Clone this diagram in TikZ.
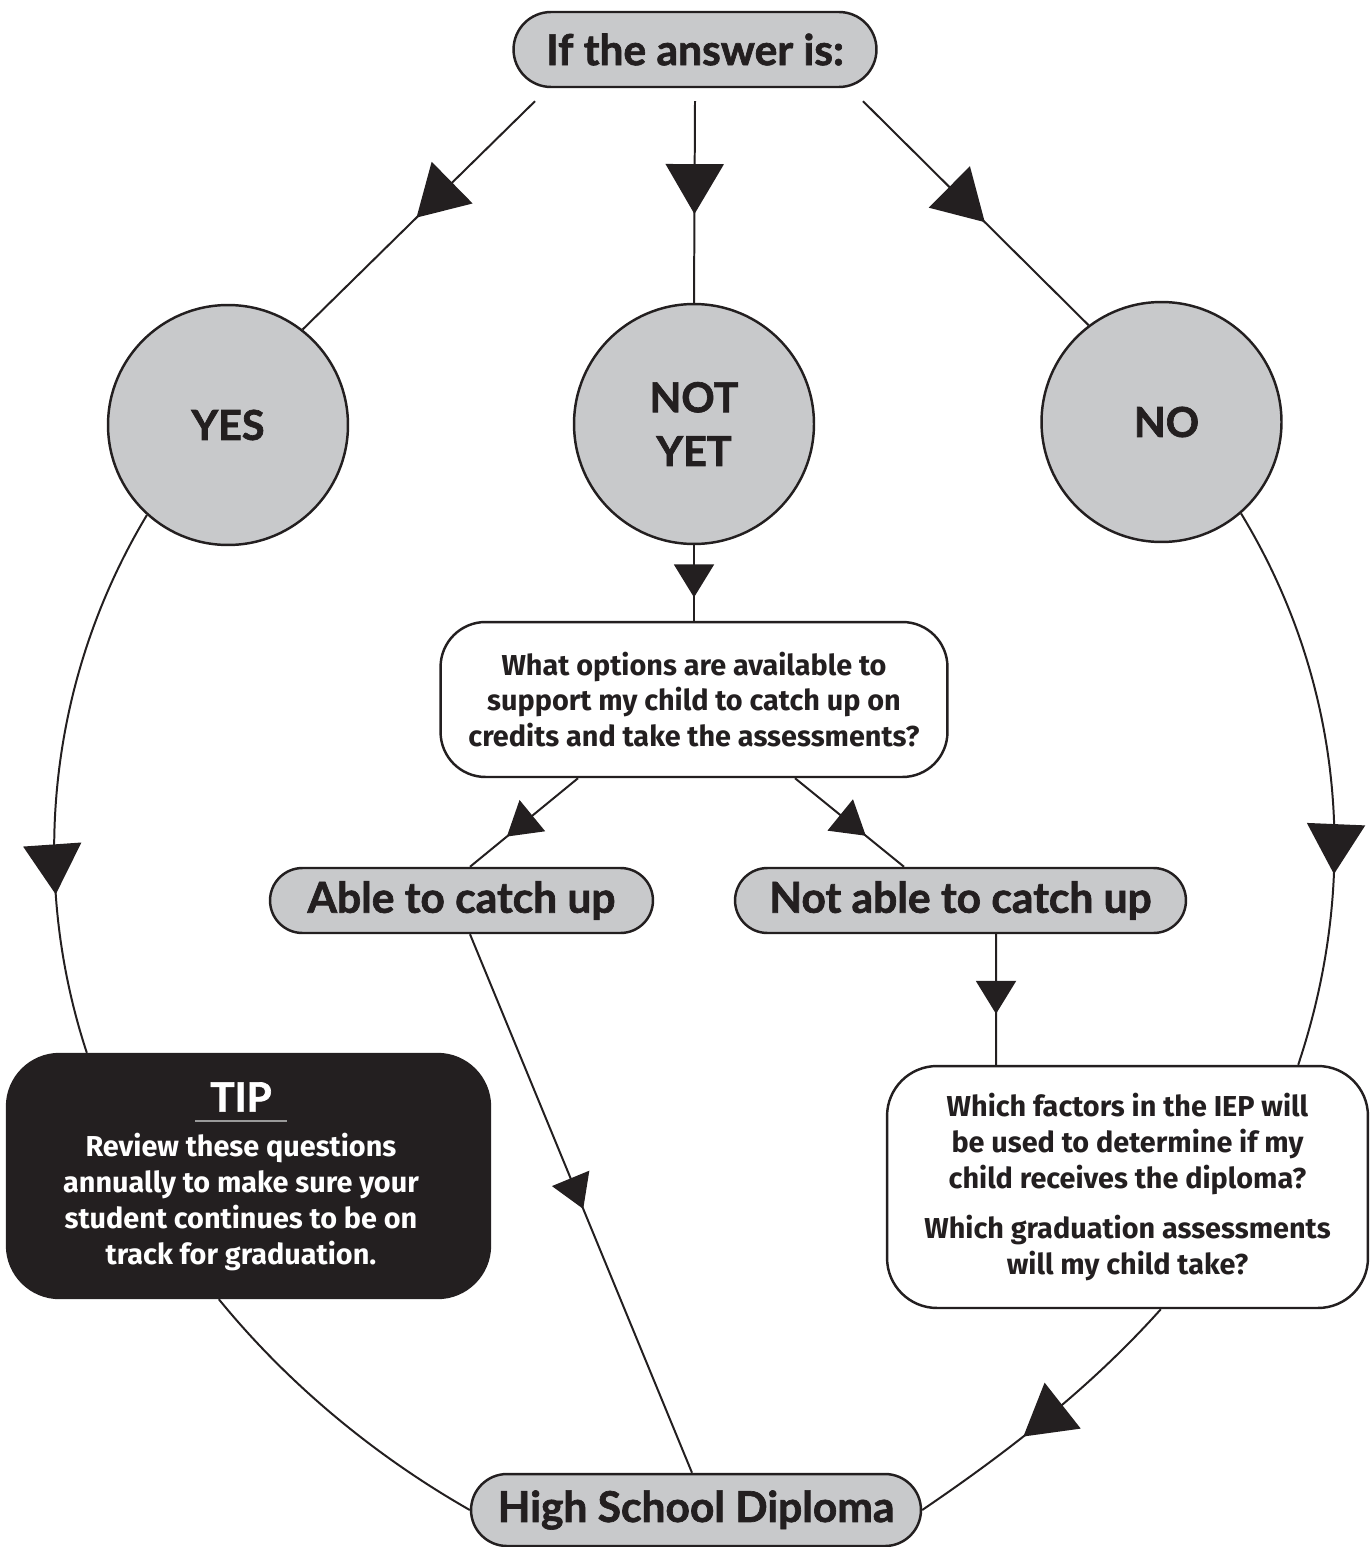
\documentclass[tikz,border=0pt]{standalone}
\usepackage{fontspec}
\setmainfont{Fira Sans}
\newfontfamily\headfont{Lato}[BoldFeatures={FakeBold=1.6}]
\newfontfamily\bodyfont{Fira Sans}
\usetikzlibrary{arrows.meta,decorations.markings,calc,backgrounds}
\definecolor{ink}{HTML}{231F20}
\definecolor{boxgray}{HTML}{C8C9CB}
\definecolor{tipgray}{HTML}{9A9A9A}
\tikzset{
  headtext/.style={font=\headfont\bfseries\fontsize{24.2}{28}\selectfont, text=ink},
  bodytext/.style={font=\bodyfont\bfseries\fontsize{16.4}{20.4}\selectfont, align=center},
  pill/.style={draw=ink, line width=1.4pt, fill=boxgray, inner sep=0pt, headtext},
  bigcirc/.style={circle, draw=ink, line width=1.4pt, fill=boxgray, minimum size=4.8cm, inner sep=0pt, headtext, align=center},
  qbox/.style={draw=ink, line width=1.4pt, fill=white, inner sep=0pt, bodytext, text=ink},
  tipbox/.style={draw=ink, line width=1.4pt, fill=ink, inner sep=0pt},
  conn/.style={draw=ink, line width=1.13pt},
  bigarr/.style={decoration={markings, mark=at position #1 with {\arrow{Triangle[width=1.16cm,length=1cm]}}}, postaction={decorate}},
  smallarr/.style={decoration={markings, mark=at position #1 with {\arrow{Triangle[width=0.8cm,length=0.66cm]}}}, postaction={decorate}}
}
\begin{document}
\begin{tikzpicture}[x=0.02cm, y=-0.02cm]
\useasboundingbox (0,0) rectangle (1371,1547);
% nodes
\node[pill, minimum width=7.26cm, minimum height=1.5cm, rounded corners=0.75cm] (ans) at (695,49.5) {If the answer is:};
\node[bigcirc, font=\headfont\bfseries\fontsize{23.5}{28}\selectfont] (yes) at (228,425) {YES};
\node[bigcirc, font=\headfont\bfseries\fontsize{23.5}{30.6}\selectfont] (nyet) at (694,424) {NOT\\YET};
\node[bigcirc, font=\headfont\bfseries\fontsize{23.5}{28}\selectfont] (no) at (1161.5,422) {\hspace*{0.2cm}NO};
\node[qbox, minimum width=10.14cm, minimum height=3.1cm, rounded corners=0.9cm] (opt) at (694,699.5)
  {What options are available to\\support my child to catch up on\\credits and take the assessments?};
\node[pill, minimum width=7.66cm, minimum height=1.3cm, rounded corners=0.65cm] (able) at (461.5,900.5) {Able to catch up};
\node[pill, minimum width=9.02cm, minimum height=1.3cm, rounded corners=0.65cm] (notable) at (960.5,900.5) {Not able to catch up};
\node[qbox, minimum width=9.62cm, minimum height=4.84cm, rounded corners=1.0cm] (iep) at (1127.5,1187)
  {Which factors in the IEP will\\be used to determine if my\\child receives the diploma?\\[8pt]Which graduation assessments\\will my child take?};
\node[tipbox, minimum width=9.66cm, minimum height=4.88cm, rounded corners=1.05cm] (tip) at (248.5,1176) {};
\node[font=\headfont\bfseries\fontsize{23}{26}\selectfont, text=white, inner sep=0pt] (tiptitle) at (241,1097) {TIP};
\draw[tipgray, line width=0.8pt] (195,1121) -- (287,1121);
\node[bodytext, text=white, inner sep=0pt] (tiptext) at (241,1202)
  {Review these questions\\annually to make sure your\\student continues to be on\\track for graduation.};
\node[pill, minimum width=9.0cm, minimum height=1.44cm, rounded corners=0.72cm] (dip) at (696,1510) {High School Diploma};
% connectors
\begin{scope}[on background layer]
\draw[conn, bigarr=0.51] ($(ans.south)+(-160,13)$) -- (yes.52);
\draw[conn, bigarr=0.56] ($(ans.south)+(0,13)$) -- (nyet.north);
\draw[conn, bigarr=0.54] ($(ans.south)+(168,13)$) -- (no.127);
\draw[conn, bigarr=0.71] (yes.-132) .. controls (49,678) and (28,874) .. ($(tip.north west)+(81,0)$);
\draw[conn] ($(tip.south west)+(213,0)$) .. controls (288,1384) and (375,1456) .. (dip.west);
\draw[conn, bigarr=0.66] (no.-49) .. controls (1341,678) and (1362,874) .. ($(iep.north east)+(-71,0)$);
\draw[conn, bigarr=0.6] ($(iep.south west)+(275,0)$) .. controls (1092,1386) and (1012,1449) .. (dip.east);
\draw[conn, smallarr=0.69] (nyet.south) -- (opt.north);
\draw[conn, smallarr=0.66] ($(opt.south)+(-116,0)$) -- ($(able.north)+(8.5,0)$);
\draw[conn, smallarr=0.65] ($(opt.south)+(101,0)$) -- ($(notable.north)+(-56.5,0)$);
\draw[conn, smallarr=0.51] ($(able.south)+(8.5,0)$) -- ($(dip.north)+(-4,0)$);
\draw[conn, smallarr=0.61] ($(notable.south)+(35.5,0)$) -- ($(iep.north)+(-131.5,0)$);
\end{scope}
\end{tikzpicture}
\end{document}
